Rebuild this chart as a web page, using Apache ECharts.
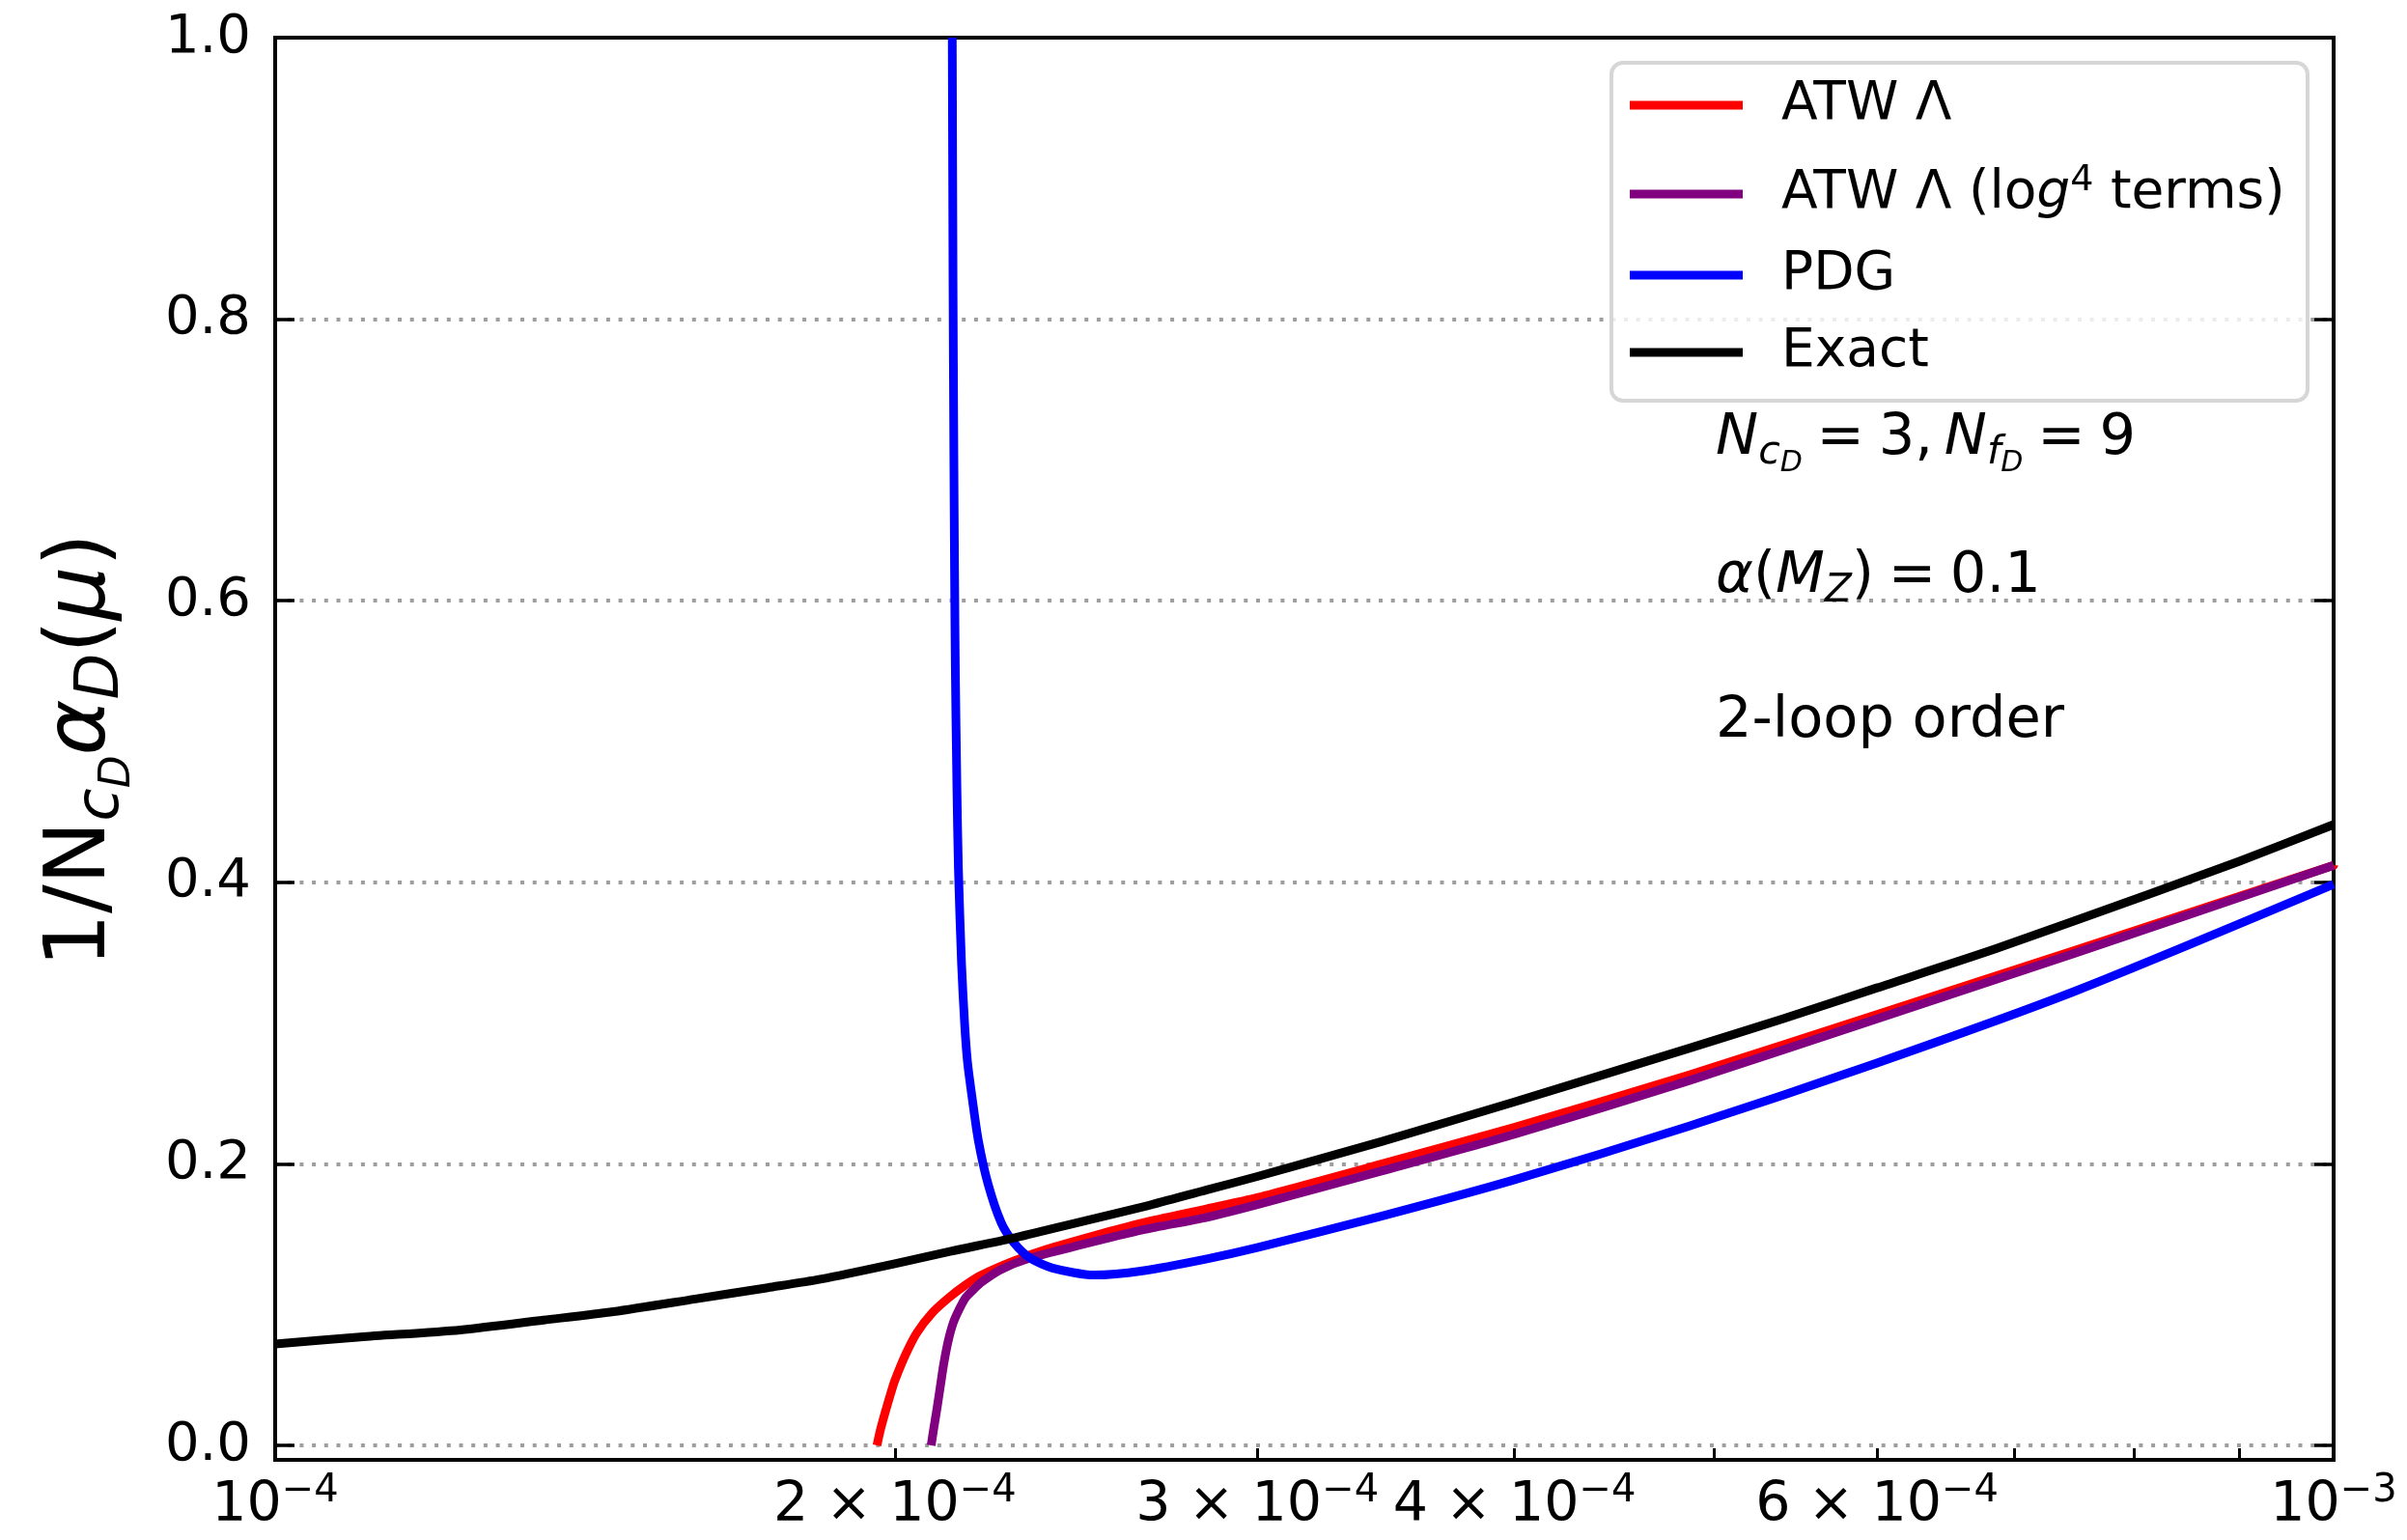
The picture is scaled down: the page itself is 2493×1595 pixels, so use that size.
<!DOCTYPE html>
<html>
<head>
<meta charset="utf-8">
<script src="https://cdn.jsdelivr.net/npm/echarts@6/dist/echarts.min.js"></script>
<style>
html,body{margin:0;padding:0;background:#ffffff;}
#chart{width:2493px;height:1595px;}
</style>
</head>
<body>
<div id="chart"></div>
<script>
const FONT = 'DejaVu Sans';

// ---- axis ranges and ticks ----
const xMin = 1e-4, xMax = 1e-3;
const yMin = -0.0103, yMax = 1.0;
const xTickValues = [1e-4, 2e-4, 3e-4, 4e-4, 6e-4, 1e-3];
const xTickMant = ['', '2', '3', '4', '6', ''];
const xTickExp = ['\u22124', '\u22124', '\u22124', '\u22124', '\u22124', '\u22123'];
const xMinorTicks = [2e-4, 3e-4, 4e-4, 5e-4, 6e-4, 7e-4, 8e-4, 9e-4];
const yTicks = [0, 0.2, 0.4, 0.6, 0.8, 1.0];

// ---- series names ----
const names = ['ATW \u039b', 'ATW \u039b (log4 terms)', 'PDG', 'Exact'];

// ---- Exact ----
const muExact = [1.00e-4, 1.10e-4, 1.23e-4, 1.35e-4, 1.46e-4, 1.60e-4, 1.735e-4, 1.84e-4, 2.00e-4, 2.13e-4, 2.28e-4, 2.45e-4, 2.65e-4, 2.835e-4, 3.00e-4, 3.45e-4, 4.00e-4, 4.86e-4, 5.40e-4, 6.00e-4, 6.86e-4, 8.15e-4, 9.00e-4, 1.00e-3];
const exact = [0.072, 0.077, 0.082, 0.089, 0.095, 0.104, 0.112, 0.118, 0.129, 0.138, 0.147, 0.158, 0.170, 0.1815, 0.191, 0.216, 0.244, 0.282, 0.303, 0.325, 0.353, 0.392, 0.415, 0.441];

// ---- ATW Lambda ----
const muRed = [1.9605e-4, 1.968e-4, 1.979e-4, 1.99e-4, 2.00e-4, 2.025e-4, 2.05e-4, 2.085e-4, 2.125e-4, 2.165e-4, 2.204e-4, 2.285e-4, 2.367e-4, 2.50e-4, 2.638e-4, 2.835e-4, 3.0e-4, 3.45e-4, 4.0e-4, 4.86e-4, 6.0e-4, 7.5e-4, 1.0e-3];
const atw = [0.000, 0.011, 0.024, 0.036, 0.046, 0.065, 0.080, 0.094, 0.105, 0.114, 0.121, 0.131, 0.139, 0.149, 0.158, 0.168, 0.176, 0.200, 0.226, 0.263, 0.306, 0.352, 0.412];

// ---- ATW Lambda (log^4 terms) ----
const muPurple = [2.083e-4, 2.089e-4, 2.096e-4, 2.104e-4, 2.112e-4, 2.123e-4, 2.135e-4, 2.15e-4, 2.165e-4, 2.185e-4, 2.204e-4, 2.253e-4, 2.326e-4, 2.456e-4, 2.638e-4, 2.835e-4, 3.0e-4, 3.45e-4, 4.0e-4, 4.86e-4, 6.0e-4, 7.5e-4, 1.0e-3];
const atwLog4 = [0.000, 0.012, 0.025, 0.041, 0.057, 0.074, 0.087, 0.097, 0.105, 0.111, 0.116, 0.125, 0.133, 0.142, 0.153, 0.162, 0.171, 0.195, 0.221, 0.259, 0.303, 0.350, 0.412];

// ---- PDG ----
const muBlue = [2.1327e-4, 2.1345e-4, 2.1364e-4, 2.1382e-4, 2.1401e-4, 2.1437e-4, 2.1474e-4, 2.155e-4, 2.1625e-4, 2.1695e-4, 2.1811e-4, 2.1956e-4, 2.2195e-4, 2.253e-4, 2.2849e-4, 2.3273e-4, 2.3858e-4, 2.499e-4, 2.6383e-4, 2.8355e-4, 3.0e-4, 3.45e-4, 4.0e-4, 4.86e-4, 6.0e-4, 7.5e-4, 1.0e-3];
const pdg = [1.0, 0.83, 0.71, 0.62, 0.55, 0.47, 0.41, 0.342, 0.299, 0.272, 0.246, 0.217, 0.186, 0.158, 0.144, 0.133, 0.126, 0.121, 0.124, 0.1325, 0.1405, 0.163, 0.1887, 0.2267, 0.2716, 0.323, 0.3985];

const toXY = (mu, v) => mu.map((m, i) => [Math.log10(m), v[i]]);
const lg = v => Math.log10(v);

function xLabel(v) {
  let best = 0, bd = 1e9;
  xTickValues.forEach((t, i) => { const d = Math.abs(lg(t) - v); if (d < bd) { bd = d; best = i; } });
  const m = xTickMant[best];
  return '{b|' + (m ? m + ' \u00d7 ' : '') + '10}{s|' + xTickExp[best] + '}';
}

const axisLineStyle = { color: '#000', width: 4, cap: 'square' };

const mathRich = (F) => {
  const fs = Math.round(F * 0.7), fss = Math.round(F * 0.5);
  const h = Math.round(F * 1.02);
  return {
    n: { fontFamily: FONT, fontSize: F, height: h, lineHeight: h, verticalAlign: 'top', color: '#000' },
    i: { fontFamily: FONT, fontSize: F, fontStyle: 'italic', height: h, lineHeight: h, verticalAlign: 'top', color: '#000' },
    s: { fontFamily: FONT, fontSize: fs, fontStyle: 'italic', height: Math.round(h + F * 0.48), lineHeight: Math.round(h + F * 0.48), verticalAlign: 'top', color: '#000' },
    ss: { fontFamily: FONT, fontSize: fss, fontStyle: 'italic', height: Math.round(h + F * 0.86), lineHeight: Math.round(h + F * 0.86), verticalAlign: 'top', color: '#000' }
  };
};

const chart = echarts.init(document.getElementById('chart'), null, { renderer: 'canvas' });

const lineSeries = (name, data, color) => ({
  name: name, type: 'line', data: data, showSymbol: false, symbol: 'none',
  smooth: 0.25, clip: true,
  lineStyle: { color: color, width: 9, cap: 'butt', join: 'round' }, itemStyle: { color: color },
  xAxisIndex: 0, yAxisIndex: 0
});

const option = {
  animation: false,
  backgroundColor: '#ffffff',
  textStyle: { fontFamily: FONT },
  grid: { left: 285, right: 76, top: 39, bottom: 80, containLabel: false },
  xAxis: [
    {
      type: 'value', min: lg(xMin), max: lg(xMax), position: 'bottom',
      axisLine: { show: true, onZero: false, lineStyle: axisLineStyle },
      axisTick: { show: true, inside: true, length: 12, lineStyle: { color: '#000', width: 3 }, customValues: xMinorTicks.map(lg) },
      axisLabel: {
        show: true, margin: 13, color: '#000', fontFamily: FONT, fontSize: 57,
        customValues: xTickValues.map(lg), formatter: xLabel,
        rich: {
          b: { fontFamily: FONT, fontSize: 57, height: 70, lineHeight: 70, verticalAlign: 'top', color: '#000' },
          s: { fontFamily: FONT, fontSize: 40, height: 40, lineHeight: 40, verticalAlign: 'top', color: '#000' }
        }
      },
      splitLine: { show: false }
    },
    {
      type: 'value', min: lg(xMin), max: lg(xMax), position: 'top',
      axisLine: { show: true, onZero: false, lineStyle: axisLineStyle },
      axisTick: { show: false }, axisLabel: { show: false }, splitLine: { show: false }
    }
  ],
  yAxis: [
    {
      type: 'value', min: yMin, max: yMax, position: 'left',
      axisLine: { show: true, onZero: false, lineStyle: axisLineStyle },
      axisTick: { show: true, inside: true, length: 20, lineStyle: { color: '#000', width: 3.5 }, customValues: yTicks },
      axisLabel: { show: true, margin: 25, color: '#000', fontFamily: FONT, fontSize: 56, customValues: yTicks, formatter: v => v.toFixed(1) },
      splitLine: { show: true, lineStyle: { color: '#9e9e9e', width: 4, type: [4, 8.7] } }
    },
    {
      type: 'value', min: yMin, max: yMax, position: 'right',
      axisLine: { show: true, onZero: false, lineStyle: axisLineStyle },
      axisTick: { show: true, inside: true, length: 20, lineStyle: { color: '#000', width: 3.5 }, customValues: yTicks },
      axisLabel: { show: false }, splitLine: { show: false }
    }
  ],
  legend: {
    show: true, orient: 'vertical', left: 1688, top: 65, padding: 0, itemGap: 8,
    itemWidth: 117, itemHeight: 9, icon: 'rect', selectedMode: false, z: 10,
    textStyle: {
      fontFamily: FONT, fontSize: 55, color: '#000', lineHeight: 72, padding: [0, 0, 0, 35],
      rich: {
        n: { fontFamily: FONT, fontSize: 55, height: 80, lineHeight: 80, verticalAlign: 'top', color: '#000' },
        g: { fontFamily: FONT, fontSize: 55, fontStyle: 'italic', height: 80, lineHeight: 80, verticalAlign: 'top', color: '#000' },
        p: { fontFamily: FONT, fontSize: 38, height: 52, lineHeight: 52, verticalAlign: 'top', color: '#000' }
      }
    },
    formatter: function (name) {
      if (name === names[1]) return '{n|ATW \u039b (lo}{g|g}{p|4}{n| terms)}';
      return name;
    },
    data: [
      { name: names[0], textStyle: { lineHeight: 88 } },
      { name: names[1], textStyle: { lineHeight: 80 } },
      { name: names[2], textStyle: { lineHeight: 72 } },
      { name: names[3], textStyle: { lineHeight: 72 } }
    ]
  },
  graphic: [
    {
      type: 'rect', z: 3,
      shape: { x: 1669, y: 65, width: 721, height: 350, r: 12 },
      style: { fill: 'rgba(255,255,255,0.8)', stroke: '#d6d6d6', lineWidth: 4 }
    },
    {
      type: 'text', z: 10, x: 85, y: 777, rotation: Math.PI / 2,
      style: {
        text: '{n|1/N}{s|c}{ss|D}{i|\u03b1}{s|D}{n|(}{i|\u03bc}{n|)}',
        x: 0, y: -45, align: 'center', verticalAlign: 'top',
        rich: mathRich(88)
      }
    },
    {
      type: 'text', z: 10, x: 1777, y: 425,
      style: {
        text: '{i|N}{s|c}{ss|D}{n|\u2005=\u20053,\u2009}{i|N}{s|f}{ss|D}{n|\u2005=\u20059}',
        align: 'left', verticalAlign: 'top', rich: mathRich(59)
      }
    },
    {
      type: 'text', z: 10, x: 1777, y: 568,
      style: {
        text: '{i|\u03b1}{n|(}{i|M}{s|Z}{n|)\u2005=\u20050.1}',
        align: 'left', verticalAlign: 'top', rich: mathRich(59)
      }
    },
    {
      type: 'text', z: 10, x: 1777, y: 718,
      style: {
        text: '{n|2-loop order}',
        align: 'left', verticalAlign: 'top', rich: mathRich(59)
      }
    }
  ],
  series: [
    lineSeries(names[0], toXY(muRed, atw), '#ff0000'),
    lineSeries(names[1], toXY(muPurple, atwLog4), '#800080'),
    lineSeries(names[2], toXY(muBlue, pdg), '#0000ff'),
    lineSeries(names[3], toXY(muExact, exact), '#000000')
  ]
};

chart.setOption(option);
</script>
</body>
</html>
